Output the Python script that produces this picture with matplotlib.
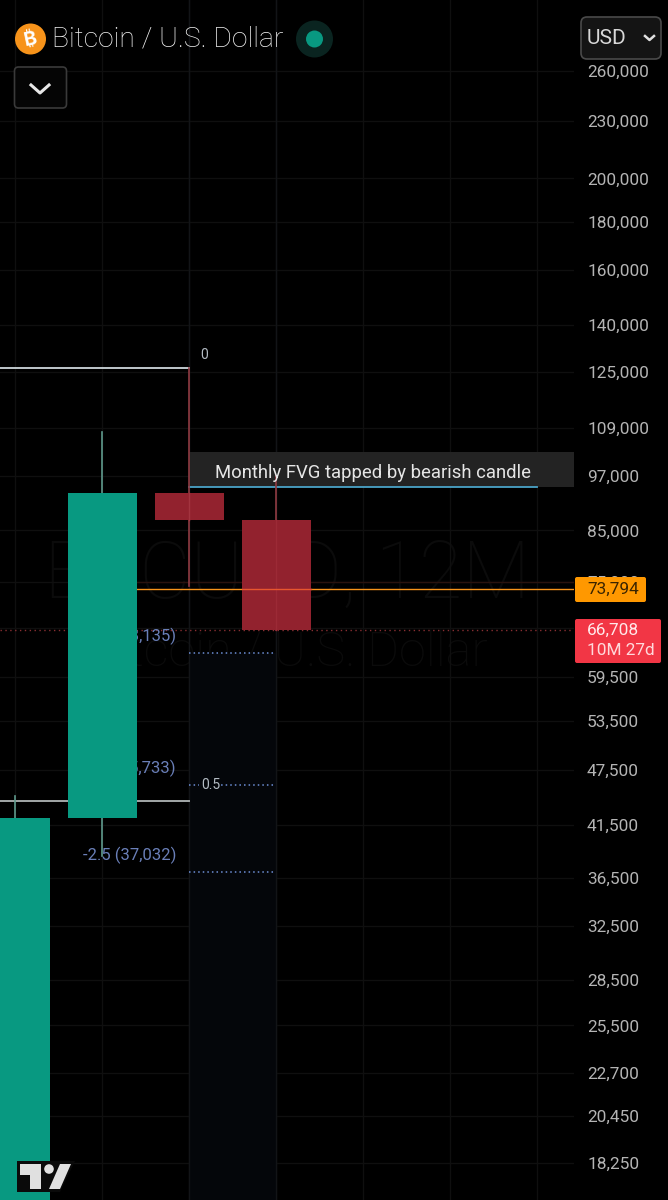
import matplotlib
matplotlib.use('Agg')
import matplotlib.pyplot as plt
from matplotlib.patches import FancyBboxPatch, Circle, Polygon

# candles, one bar = 12 months
bar_idx = [0, 1, 2, 3]
opens = [15000, 42260, 93100, 87170]
highs = [44540, 108000, 126200, 97000]
lows = [15000, 38500, 74240, 66708]
closes = [42260, 93100, 87170, 66708]

price_ticks = [260000, 230000, 200000, 180000, 160000, 140000, 125000, 109000,
               97000, 85000, 75000, 67000, 59500, 53500, 47500, 41500, 36500,
               32500, 28500, 25500, 22700, 20450, 18250, 16450]

fib_levels = [63135, 45733, 37032]
fib_labels = ['-1.5 (63,135)', '-2 (45,733)', '-2.5 (37,032)']
fib_top = 126200
fib_mid = 44000
fvg_level = 94470
fvg_box_top = 102800
orange_level = 73794
last_price = 66708

BG = '#000000'
UP = '#089981'
DOWN = '#92222e'
GRID = '#0f0f0f'
TEXT = '#b4b4b4'
BLUE = '#6a7fb8'

plt.rcParams['font.family'] = ['Roboto', 'DejaVu Sans']

fig = plt.figure(figsize=(6.68, 12), dpi=100, facecolor=BG)
# axes runs 20px under the picture so the last tick gets cut like on the phone
ax = fig.add_axes([0, -20 / 1200, 574 / 668, 1220 / 1200], facecolor=BG)
ax.set_yscale('log')

for s in ax.spines.values():
    s.set_visible(False)

ax.yaxis.tick_right()
ax.set_yticks(price_ticks)
ax.set_yticklabels([f'{p:,}' for p in price_ticks])
ax.minorticks_off()
ax.tick_params(axis='y', length=0, pad=9.4, labelsize=12.4, labelcolor=TEXT)
ax.set_xticks(range(0, 7))
ax.set_xticklabels([])
ax.tick_params(axis='x', length=0)
ax.grid(True, color=GRID, lw=1)
ax.set_axisbelow(True)
ax.set_ylim(15890, 308700)
ax.set_xlim(-0.178, 6.42)

# watermark
ax.text(3.12, 76070, 'BTCUSD, 12M', color='#0b0b0b', fontsize=57, fontweight='light',
        ha='center', va='center', zorder=0.5)
ax.text(5.43, 63080, 'Bitcoin / U.S. Dollar', color='#0b0b0b', fontsize=35, fontweight='light',
        ha='right', va='center', zorder=0.5)

# fib zone
ax.fill_between([2, 3], 15000, fib_levels[0], color='#04060a', lw=0, zorder=1)
ax.axvline(2, color='#121417', lw=1, zorder=1.1)
ax.axvline(3, color='#121417', lw=1, zorder=1.1)
for lv in fib_levels:
    ax.plot([2, 3], [lv, lv], color='#6d8fd6', lw=1.1, ls=(0, (1, 2)), zorder=2)
ax.plot([-1, 2], [fib_top, fib_top], color='#cfd8dc', lw=1.3, zorder=2)
ax.plot([-1, 2], [fib_mid, fib_mid], color='#a3a8a8', lw=1.4, zorder=2)

# price lines
ax.axhline(last_price, color='#8a2f33', lw=1, ls=(0, (1, 2.5)), zorder=2)
ax.plot([1, 6.5], [75000, 75000], color='#2a120e', lw=1, zorder=1.5)
ax.plot([1, 6.5], [orange_level, orange_level], color='#f7931a', lw=1, zorder=3.5)

# FVG note
ax.axhspan(fvg_level, fvg_box_top, xmin=(2 + 0.178) / 6.598, color='#232323', lw=0, zorder=2)
ax.plot([2, 6], [fvg_level, fvg_level], color='#4aa3c7', lw=1.3, zorder=3)

# fib labels, under the candles
for lv, lab in zip(fib_levels, fib_labels):
    ax.text(1.845, lv * 1.041, lab, color=BLUE, fontsize=12, ha='right', va='center', zorder=3.2)

# candles
for i, o, h, l, c in zip(bar_idx, opens, highs, lows, closes):
    col = UP if c >= o else DOWN
    wick = '#5f9a8c' if c >= o else '#8f3a42'
    ax.plot([i, i], [l, h], color=wick, lw=1.2, zorder=3)
    ax.bar(i, abs(c - o), bottom=min(o, c), width=0.795, color=col, lw=0, zorder=4)
ax.plot([2, 2], [closes[2], opens[2]], color='#a3343f', lw=1, zorder=4.5)
ax.plot([3, 3], [closes[3], opens[3]], color='#9c2a36', lw=1, zorder=4.5)
ax.plot([2.6, 3.4], [orange_level, orange_level], color='#e8562f', lw=1, zorder=5)

ax.text(4.11, 97700, 'Monthly FVG tapped by bearish candle', color='#e6e6e6',
        fontsize=13.3, ha='center', va='center', zorder=6)
ax.text(2.167, 130200, '0', color='#b4bcc4', fontsize=10, ha='center', va='center', zorder=6)
ax.text(2.24, fib_levels[1], '0.5', color='#b4bcc4', fontsize=10, ha='center', va='center',
        zorder=6, bbox=dict(fc='#04060a', ec='none', pad=1))

# overlay for the app chrome, pixel coordinates
ui = fig.add_axes([0, 0, 1, 1], facecolor='none')
ui.set_xlim(0, 668)
ui.set_ylim(1200, 0)
ui.axis('off')

ui.add_patch(Circle((30.5, 39), 15.5, fc='#f7931a', ec='none'))
ui.text(30.5, 39.5, '₿', color='white', fontsize=14, fontweight='bold', ha='center',
        va='center', rotation=12, family=['Inter', 'Noto Sans', 'Lato', 'Open Sans', 'DejaVu Sans'])
ui.text(52, 39, 'Bitcoin / U.S. Dollar', color='#f2f2f2', fontsize=20.3, fontweight='light',
        ha='left', va='center')
ui.add_patch(Circle((314.5, 39), 18.5, fc='#0a2420', ec='none'))
ui.add_patch(Circle((314.5, 39), 8.5, fc='#089981', ec='none'))

ui.add_patch(FancyBboxPatch((14.5, 67), 52, 41, boxstyle='round,pad=0,rounding_size=4',
                            fc='#050505', ec='#3a3a3a', lw=1.2))
ui.plot([31, 40, 49], [85, 93, 85], color='#e8e8e8', lw=2.2)

# USD button
ui.add_patch(FancyBboxPatch((581, 17), 80, 42, boxstyle='round,pad=0,rounding_size=6',
                            fc='#141414', ec='#4a4a4a', lw=1.2))
ui.text(587, 38.5, 'USD', color='#d8d8d8', fontsize=15, ha='left', va='center')
ui.plot([645, 649.5, 654], [36, 40, 36], color='#e0e0e0', lw=1.8)

# price labels
ui.add_patch(FancyBboxPatch((575, 577), 71, 25, boxstyle='round,pad=0,rounding_size=2',
                            fc='#ff9800', ec='none'))
ui.text(587, 589.5, f'{orange_level:,}', color='#3a2400', fontsize=12.4, ha='left', va='center')
ui.add_patch(FancyBboxPatch((575, 619), 86, 44, boxstyle='round,pad=0,rounding_size=2',
                            fc='#f23645', ec='none'))
ui.text(587, 630.5, f'{last_price:,}', color='#ffe9ea', fontsize=12.4, ha='left', va='center')
ui.text(587, 650.5, '10M 27d', color='#ffd9dc', fontsize=12.4, ha='left', va='center')

# tradingview logo
ui.add_patch(Polygon([(17, 1161), (75, 1161), (60, 1192), (17, 1192)], fc='#0a0a0a', ec='none'))
ui.add_patch(Polygon([(20, 1164), (41, 1164), (41, 1189), (30, 1189), (30, 1175), (20, 1175)],
                     fc='#e0e0e0', ec='none'))
ui.add_patch(Circle((49, 1169), 4.8, fc='#e0e0e0', ec='none'))
ui.add_patch(Polygon([(60, 1164), (71, 1164), (60, 1189), (49, 1189)], fc='#e0e0e0', ec='none'))

fig.savefig('out.png', dpi=100, facecolor=BG)
